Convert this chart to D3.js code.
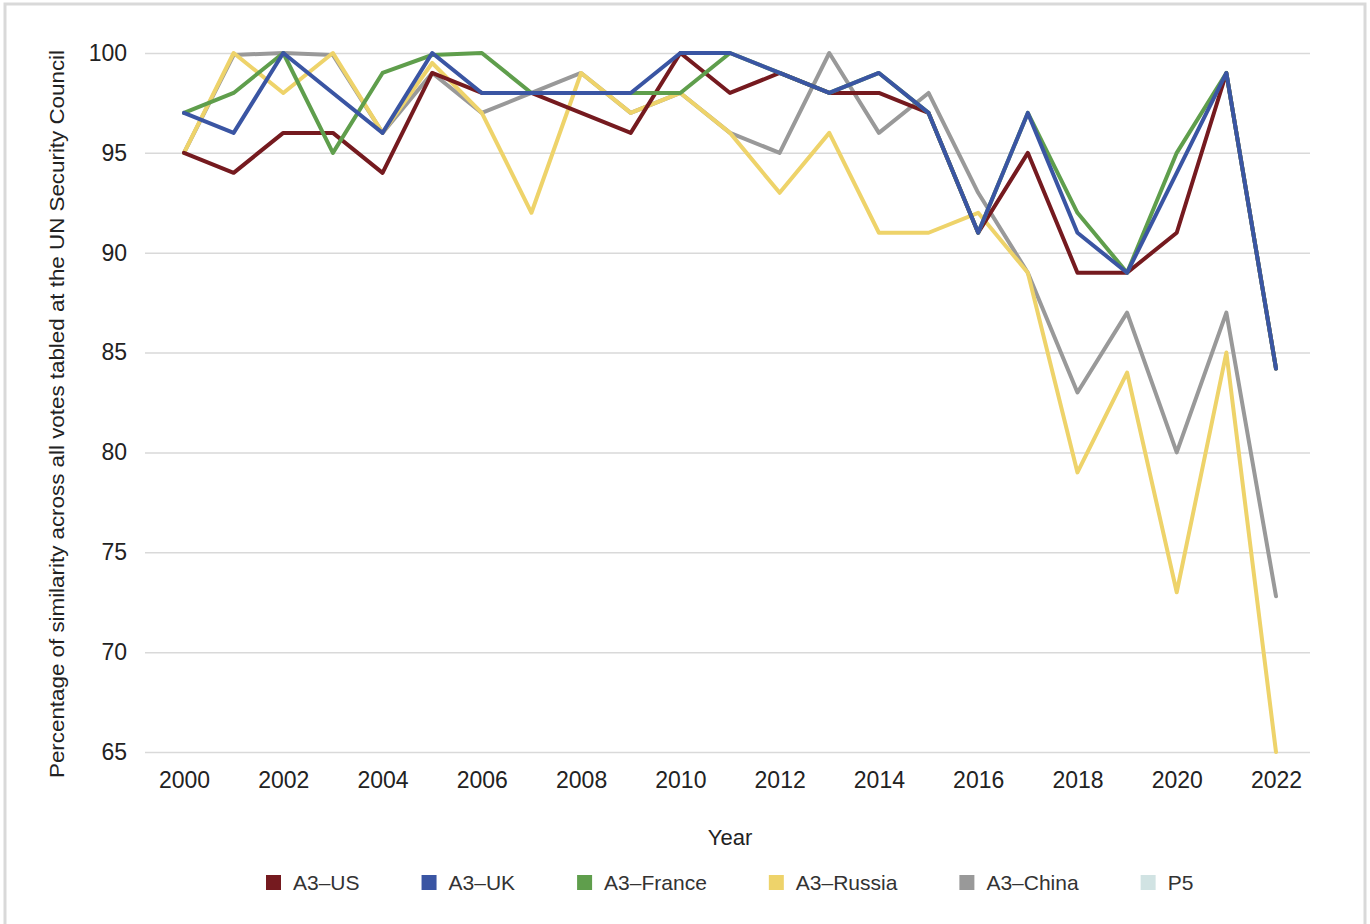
<!DOCTYPE html>
<html>
<head>
<meta charset="utf-8">
<script src="https://cdn.jsdelivr.net/npm/d3@7"></script>
<style>
  body { margin: 0; background: #fff; }
  svg { font-family: "Helvetica Neue", Helvetica, "Liberation Sans", Arial, sans-serif; }
</style>
</head>
<body>
<svg id="chart" width="1370" height="924"></svg>
<script>
// data
var years = [2000, 2001, 2002, 2003, 2004, 2005, 2006, 2007, 2008, 2009, 2010, 2011,
             2012, 2013, 2014, 2015, 2016, 2017, 2018, 2019, 2020, 2021, 2022];
var a3US     = [95, 94, 96, 96, 94, 99, 98, 98, 97, 96, 100, 98, 99, 98, 98, 97, 91, 95, 89, 89, 91, 99, 84.2];
var a3UK     = [97, 96, 100, 98, 96, 100, 98, 98, 98, 98, 100, 100, 99, 98, 99, 97, 91, 97, 91, 89, 94, 99, 84.2];
var a3France = [97, 98, 100, 95, 99, 99.9, 100, 98, 98, 98, 98, 100, 99, 98, 99, 97, 91, 97, 92, 89, 95, 99, 84.2];
var a3Russia = [95, 100, 98, 100, 96, 99.5, 97, 92, 99, 97, 98, 96, 93, 96, 91, 91, 92, 89, 79, 84, 73, 85, 65];
var a3China  = [95, 99.9, 100, 99.9, 96, 99, 97, 98, 99, 97, 98, 96, 95, 100, 96, 98, 93, 89, 83, 87, 80, 87, 72.8];
var p5       = []; // legend only, no line in the chart

var yTicks = [65, 70, 75, 80, 85, 90, 95, 100];
var xTicks = [2000, 2002, 2004, 2006, 2008, 2010, 2012, 2014, 2016, 2018, 2020, 2022];

var seriesNames = ["A3\u2013US", "A3\u2013UK", "A3\u2013France", "A3\u2013Russia", "A3\u2013China", "P5"];
var seriesValues = [a3US, a3UK, a3France, a3Russia, a3China, p5];
var seriesColors = ["#751a1f", "#3a55a3", "#5f9e4c", "#eed36a", "#999999", "#d1e3e3"];
// order lines are painted (last one on top)
var drawOrder = [4, 3, 0, 2, 1];

var svg = d3.select("#chart");

// outer frame
svg.append("rect")
    .attr("x", 5).attr("y", 4)
    .attr("width", 1360).attr("height", 940)
    .attr("fill", "none")
    .attr("stroke", "#d9d9d9")
    .attr("stroke-width", 3);

var gridLeft = 145, gridRight = 1310;

var x = d3.scaleLinear()
    .domain([2000, 2022])
    .range([184, 1276]);

var y = d3.scaleLinear()
    .domain([65, 100])
    .range([752, 53]);

// y axis + gridlines
var yAxis = svg.append("g")
    .attr("transform", "translate(" + gridLeft + ",0)")
    .call(d3.axisLeft(y)
        .tickValues(yTicks)
        .tickSize(-(gridRight - gridLeft))
        .tickPadding(18));
yAxis.select(".domain").remove();
yAxis.selectAll(".tick line")
    .attr("stroke", "#d9d9d9")
    .attr("stroke-width", 1.5);
yAxis.selectAll(".tick text")
    .attr("fill", "#222")
    .style("font-size", "23px");

// x axis
var xAxis = svg.append("g")
    .attr("transform", "translate(0," + y(65) + ")")
    .call(d3.axisBottom(x)
        .tickValues(xTicks)
        .tickSize(0)
        .tickPadding(20)
        .tickFormat(d3.format("d")));
xAxis.select(".domain").remove();
xAxis.selectAll(".tick text")
    .attr("fill", "#222")
    .style("font-size", "23px");

// axis titles
svg.append("text")
    .attr("x", 730).attr("y", 845)
    .attr("text-anchor", "middle")
    .attr("fill", "#222")
    .style("font-size", "22px")
    .text("Year");

svg.append("text")
    .attr("transform", "translate(64,414) rotate(-90)")
    .attr("text-anchor", "middle")
    .attr("fill", "#222")
    .attr("textLength", 728)
    .attr("lengthAdjust", "spacingAndGlyphs")
    .style("font-size", "21px")
    .text("Percentage of similarity across all votes tabled at the UN Security Council");

// lines
var line = d3.line()
    .x(function(d, i) { return x(years[i]); })
    .y(function(d) { return y(d); });

svg.append("g").selectAll("path")
    .data(drawOrder)
    .enter().append("path")
    .attr("d", function(k) { return line(seriesValues[k]); })
    .attr("fill", "none")
    .attr("stroke", function(k) { return seriesColors[k]; })
    .attr("stroke-width", 4)
    .attr("stroke-linejoin", "round")
    .attr("stroke-linecap", "round");

// legend
var legend = svg.append("g");
var lx = 266;
seriesNames.forEach(function(name, i) {
    var item = legend.append("g").attr("transform", "translate(" + lx + ",875)");
    item.append("rect")
        .attr("width", 15).attr("height", 15)
        .attr("fill", seriesColors[i]);
    var t = item.append("text")
        .attr("x", 27).attr("y", 15)
        .attr("fill", "#333")
        .style("font-size", "21px")
        .text(name);
    lx += 27 + t.node().getComputedTextLength() + 62;
});
</script>
</body>
</html>
